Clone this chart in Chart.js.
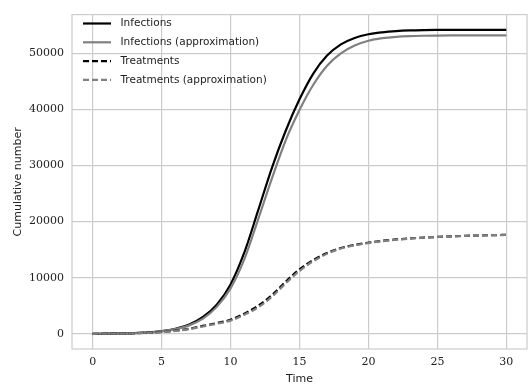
<!DOCTYPE html>
<html>
<head>
<meta charset="utf-8">
<script src="https://cdn.jsdelivr.net/npm/chart.js@4"></script>
<style>
  html, body { margin: 0; padding: 0; background: #fff; }
  #wrap { width: 528px; height: 389px; }
</style>
</head>
<body>
<div id="wrap"><canvas id="chart" width="528" height="389"></canvas></div>
<script>
// Data
const times = [0,1,2,3,4,5,6,7,8,9,10,11,12,13,14,15,16,17,18,19,20,21,22,23,24,25,26,27,28,29,30];

const infections = [0,30,70,130,250,480,900,1650,3000,5200,8800,14500,22000,29600,36200,41800,46400,49600,51600,52750,53400,53750,53970,54090,54150,54180,54200,54200,54200,54200,54200];
const infectionsApprox = [0,25,60,120,230,440,830,1500,2700,4800,8100,13300,20400,27700,34500,39900,44400,47800,50000,51400,52250,52700,52950,53080,53140,53170,53190,53200,53200,53200,53200];
const treatments = [0,20,50,100,180,320,550,900,1400,1900,2500,3600,5000,6900,9300,11500,13150,14400,15300,15850,16250,16580,16820,17010,17160,17280,17380,17460,17530,17590,17640];
const treatmentsApprox = [0,18,45,90,170,300,510,840,1300,1800,2350,3400,4700,6600,9000,11200,12950,14250,15200,15780,16180,16520,16770,16970,17130,17260,17360,17450,17520,17580,17630];

const xTicks = [0,5,10,15,20,25,30];
const yTicks = [0,10000,20000,30000,40000,50000];
const labels = ["Infections","Infections (approximation)","Treatments","Treatments (approximation)"];

function pts(arr) {
  return arr.map((v, i) => ({ x: times[i], y: v }));
}

const styles = [
  { color: "#000000", dash: [] },
  { color: "#808080", dash: [] },
  { color: "#000000", dash: [6, 3] },
  { color: "#808080", dash: [6, 3] }
];
const series = [infections, infectionsApprox, treatments, treatmentsApprox];

const datasets = series.map((s, i) => ({
  label: labels[i],
  data: pts(s),
  borderColor: styles[i].color,
  borderDash: styles[i].dash,
  borderWidth: 2.2,
  pointRadius: 0,
  fill: false,
  cubicInterpolationMode: "monotone",
  order: 4 - i
}));

// frame + legend inside the plot
const framePlugin = {
  id: "frame",
  beforeDatasetsDraw(chart) {
    const a = chart.chartArea, ctx = chart.ctx;
    ctx.save();
    ctx.strokeStyle = "#cccccc";
    ctx.lineWidth = 1.2;
    ctx.strokeRect(a.left, a.top, a.right - a.left, a.bottom - a.top);
    ctx.restore();
  },
  afterDraw(chart) {
    const ctx = chart.ctx;
    ctx.save();
    ctx.font = "10.5px 'DejaVu Sans'";
    ctx.textBaseline = "middle";
    ctx.fillStyle = "#222";
    labels.forEach((lab, i) => {
      const y = 23.5 + i * 18.8;
      ctx.beginPath();
      ctx.strokeStyle = styles[i].color;
      ctx.lineWidth = 2.2;
      ctx.setLineDash(styles[i].dash);
      ctx.moveTo(83, y);
      ctx.lineTo(111, y);
      ctx.stroke();
      ctx.fillText(lab, 120.5, y);
    });
    ctx.restore();
  }
};

new Chart(document.getElementById("chart"), {
  type: "line",
  data: { datasets },
  plugins: [framePlugin],
  options: {
    responsive: false,
    animation: false,
    layout: { padding: { top: 7, right: 1, bottom: 0, left: 0 } },
    plugins: { legend: { display: false }, tooltip: { enabled: false } },
    scales: {
      x: {
        type: "linear",
        min: -1.5,
        max: 31.5,
        afterBuildTicks: s => { s.ticks = xTicks.map(v => ({ value: v })); },
        afterFit: s => { s.height = 40; },
        grid: { color: "#cccccc", lineWidth: 1.2, drawTicks: false },
        border: { display: false },
        ticks: { color: "#222", padding: 7, font: { family: "DejaVu Serif", size: 11 }, maxRotation: 0 },
        title: { display: true, text: "Time", color: "#222", padding: { top: 0, bottom: 3 }, font: { family: "DejaVu Sans", size: 11 } }
      },
      y: {
        min: -2710,
        max: 56910,
        afterBuildTicks: s => { s.ticks = yTicks.map(v => ({ value: v })); },
        afterFit: s => { s.width = 72; },
        grid: { color: "#cccccc", lineWidth: 1.2, drawTicks: false },
        border: { display: false },
        ticks: { color: "#222", padding: 8, font: { family: "DejaVu Serif", size: 11 }, callback: v => String(v) },
        title: { display: true, text: "Cumulative number", color: "#222", padding: { top: 12, bottom: 0 }, font: { family: "DejaVu Sans", size: 11 } }
      }
    }
  }
});
</script>
</body>
</html>
